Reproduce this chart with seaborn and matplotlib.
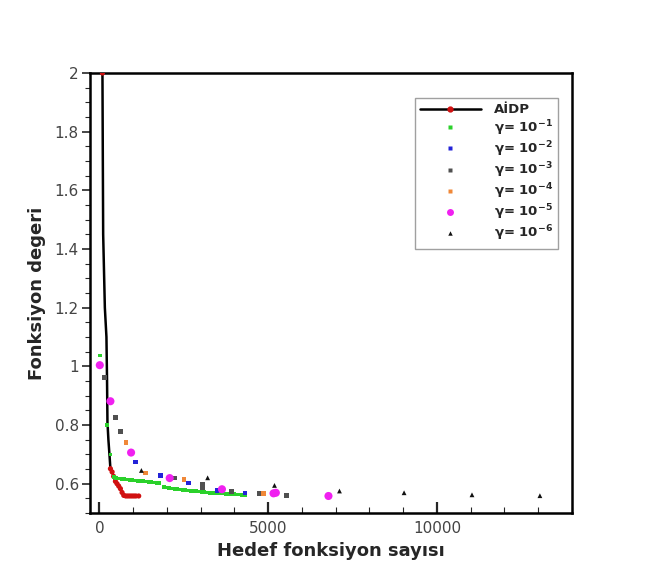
import matplotlib
matplotlib.use("Agg")
import matplotlib.pyplot as plt
from matplotlib.lines import Line2D
from matplotlib.ticker import MultipleLocator, FixedLocator
import seaborn as sns
import pandas as pd

# ---------------- data ----------------
aidp_x = [89, 100, 110, 160, 207, 225, 237, 265, 296, 325, 375, 420, 473, 520, 570, 621, 670, 720, 780, 840, 900, 960, 1020, 1080, 1163]
aidp_y = [2.0, 1.7, 1.45, 1.2, 1.1, 0.95, 0.81, 0.75, 0.70, 0.651, 0.64, 0.625, 0.608, 0.600, 0.592, 0.583, 0.570, 0.560, 0.558, 0.558, 0.558, 0.558, 0.558, 0.558, 0.558]

g1_x = [10, 227, 325, 424, 500, 580, 660, 740, 820, 900, 980, 1060, 1140, 1220, 1300, 1380, 1460, 1540, 1620, 1700, 1780,
        1904, 1990, 2070, 2150, 2230, 2310, 2390, 2470, 2550, 2630, 2710, 2790, 2870, 2950, 3030, 3110, 3190, 3270, 3350,
        3430, 3510, 3590, 3670, 3750, 3830, 3910, 3990, 4070, 4150, 4230, 4320]
g1_y = [1.037, 0.80, 0.699, 0.623, 0.620, 0.618, 0.617, 0.616, 0.614, 0.613, 0.612, 0.611, 0.610, 0.609, 0.608, 0.607, 0.606, 0.605, 0.604, 0.603, 0.602,
        0.589, 0.587, 0.585, 0.584, 0.582, 0.581, 0.580, 0.579, 0.578, 0.577, 0.576, 0.575, 0.574, 0.573, 0.572, 0.571, 0.570, 0.569, 0.568,
        0.568, 0.567, 0.566, 0.566, 0.565, 0.565, 0.564, 0.564, 0.563, 0.563, 0.562, 0.561]
g2_x = [1065, 1805, 2644, 3481, 4320]
g2_y = [0.674, 0.628, 0.602, 0.577, 0.569]
g3_x = [158, 473, 621, 2229, 3057, 3057, 3906, 4734, 5553]
g3_y = [0.961, 0.825, 0.779, 0.619, 0.597, 0.588, 0.574, 0.566, 0.560]
g4_x = [789, 1361, 2496, 4862]
g4_y = [0.740, 0.637, 0.614, 0.566]
g5_x = [10, 325, 937, 2081, 3629, 5157, 5226, 6785]
g5_y = [1.004, 0.881, 0.706, 0.619, 0.581, 0.567, 0.569, 0.558]
g6_x = [1243, 3205, 5186, 7111, 9025, 11037, 13049]
g6_y = [0.645, 0.620, 0.594, 0.575, 0.569, 0.562, 0.559]

legend_labels = ["AİDP", r"$\mathbf{\gamma}$= 10$^{-1}$", r"$\mathbf{\gamma}$= 10$^{-2}$", r"$\mathbf{\gamma}$= 10$^{-3}$",
                 r"$\mathbf{\gamma}$= 10$^{-4}$", r"$\mathbf{\gamma}$= 10$^{-5}$", r"$\mathbf{\gamma}$= 10$^{-6}$"]
y_ticks = [0.6, 0.8, 1.0, 1.2, 1.4, 1.6, 1.8, 2.0]
y_tick_labels = ["0.6", "0.8", "1", "1.2", "1.4", "1.6", "1.8", "2"]
x_ticks = [0, 5000, 10000]
x_tick_labels = ["0", "5000", "10000"]

# ---------------- plot ----------------
sns.set_style("white")
plt.rcParams["font.family"] = ["DejaVu Sans"]
plt.rcParams["mathtext.default"] = "regular"

fig = plt.figure(figsize=(6.46, 5.73), dpi=100)
ax = fig.add_axes([90 / 646, 1 - 513 / 573, 482 / 646, 440 / 573])

marker_idx = [0] + list(range(9, len(aidp_x)))
ax.plot(aidp_x, aidp_y, color="black", lw=1.8, zorder=3)
sns.scatterplot(x=[aidp_x[i] for i in marker_idx], y=[aidp_y[i] for i in marker_idx], ax=ax,
                color="#d01010", marker="o", s=14, edgecolor="none", zorder=4)

series = [
    (g1_x, g1_y, "#2bd12b", "s", 7, 3.2),
    (g2_x, g2_y, "#2323d8", "s", 10, 3.2),
    (g3_x, g3_y, "#505050", "s", 12, 3.2),
    (g4_x, g4_y, "#f08838", "s", 10, 3.2),
    (g5_x, g5_y, "#f020f0", "o", 34, 5),
    (g6_x, g6_y, "#111111", "^", 12, 3.2),
]
for xs, ys, c, m, s, _ in series:
    sns.scatterplot(x=xs, y=ys, ax=ax, color=c, marker=m, s=s, edgecolor="none", zorder=5)

ax.set_xlim(-280, 14000)
ax.set_ylim(0.5, 2.0)

ax.xaxis.set_major_locator(FixedLocator(x_ticks))
ax.set_xticklabels(x_tick_labels)
ax.xaxis.set_minor_locator(MultipleLocator(1000))
ax.yaxis.set_major_locator(FixedLocator(y_ticks))
ax.set_yticklabels(y_tick_labels)
ax.yaxis.set_minor_locator(MultipleLocator(0.05))

ax.tick_params(axis="x", which="major", direction="in", length=8, width=1.6, labelsize=11, labelcolor="#444444", pad=6)
ax.tick_params(axis="x", which="minor", direction="in", length=4, width=0.8)
ax.tick_params(axis="y", which="major", direction="out", length=6, width=1.2, labelsize=11, labelcolor="#444444", pad=2)
ax.tick_params(axis="y", which="minor", direction="out", length=3.5, width=0.8)
ax.tick_params(bottom=True, left=True, which="both")

for sp in ax.spines.values():
    sp.set_visible(True)
    sp.set_color("black")
    sp.set_linewidth(1.8)

ax.set_xlabel("Hedef fonksiyon sayısı", fontsize=13, fontweight="bold", labelpad=4)
ax.set_ylabel("Fonksiyon degeri", fontsize=13, fontweight="bold", labelpad=6)

handles = [Line2D([], [], color="black", lw=1.8, marker="o", markerfacecolor="#d01010", markeredgecolor="#d01010", markersize=3.5)]
for xs, ys, c, m, s, ms in series:
    handles.append(Line2D([], [], ls="none", marker=m, color=c, markeredgecolor="none", markersize=ms))
leg = ax.legend(handles, legend_labels, loc="upper left", bbox_to_anchor=(0.674, 0.943), frameon=True, fancybox=False,
                prop={"size": 9.5, "weight": "bold"}, handlelength=4.6, handletextpad=1.0, labelspacing=0.12,
                borderpad=0.4, borderaxespad=0)
leg.get_frame().set_edgecolor("#888888")
leg.get_frame().set_linewidth(1.0)

fig.savefig("out.png", dpi=100)
